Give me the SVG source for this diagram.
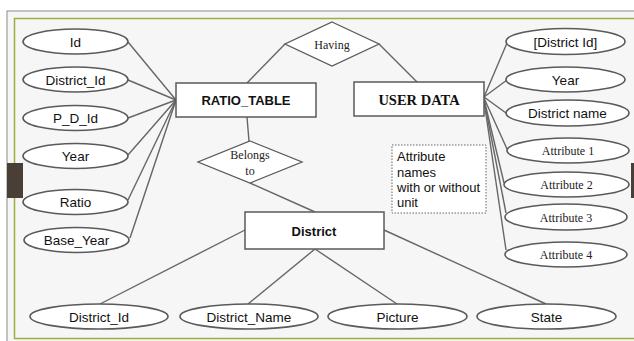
<svg xmlns="http://www.w3.org/2000/svg" width="634" height="341" viewBox="0 0 634 341">
  <style>
    .ent { fill: #ffffff; stroke: #5a5a5a; stroke-width: 1.5; }
    .att { fill: #ffffff; stroke: #5a5a5a; stroke-width: 1.6; }
    .rel { fill: #ffffff; stroke: #5a5a5a; stroke-width: 1.3; }
    .sans { font-family: "Liberation Sans", Arial, sans-serif; font-size: 13.5px; fill: #111; text-anchor: middle; dominant-baseline: central; }
    .serif { font-family: "Liberation Serif", "Times New Roman", serif; font-size: 12px; fill: #222; text-anchor: middle; dominant-baseline: central; }
    .bold { font-family: "Liberation Sans", Arial, sans-serif; font-size: 13px; font-weight: bold; fill: #111; text-anchor: middle; dominant-baseline: central; }
    .bserif { font-family: "Liberation Serif", "Times New Roman", serif; font-size: 14.5px; font-weight: bold; fill: #111; text-anchor: middle; dominant-baseline: central; }
    .note { font-family: "Liberation Sans", Arial, sans-serif; font-size: 13px; fill: #111; }
    #connectors line { stroke: #666; stroke-width: 1.4; }
  </style>

  <!-- slide frame -->
  <rect x="0" y="0" width="634" height="341" fill="#ffffff"/>
  <rect x="7" y="11" width="640" height="340" fill="#f6f6f6" stroke="#8a8a8a" stroke-width="1"/>
  <rect x="14.5" y="18.5" width="640" height="320" fill="none" stroke="#98b040" stroke-width="1.5"/>
  <rect x="7" y="163" width="16" height="35" fill="#4a3f37"/>
  <rect x="631" y="163" width="4" height="35" fill="#4a3f37"/>

  <g id="connectors">
    <!-- RATIO_TABLE attributes -->
    <line x1="128" y1="42" x2="176" y2="100"/>
    <line x1="128" y1="80" x2="176" y2="100"/>
    <line x1="128" y1="118" x2="176" y2="100"/>
    <line x1="128" y1="155" x2="176" y2="100"/>
    <line x1="128" y1="200" x2="176" y2="100"/>
    <line x1="130" y1="238" x2="176" y2="100"/>
    <!-- Having -->
    <line x1="285" y1="44" x2="247" y2="83"/>
    <line x1="379" y1="44" x2="418" y2="83"/>
    <!-- Belongs to -->
    <line x1="247" y1="117" x2="249" y2="141"/>
    <line x1="250" y1="183" x2="315" y2="212"/>
    <!-- USER DATA attributes -->
    <line x1="484" y1="97" x2="507" y2="43"/>
    <line x1="484" y1="97" x2="507" y2="80"/>
    <line x1="484" y1="97" x2="506" y2="113"/>
    <line x1="484" y1="98" x2="507" y2="149"/>
    <line x1="484" y1="99" x2="504" y2="183"/>
    <line x1="484" y1="100" x2="506" y2="213"/>
    <line x1="484" y1="101" x2="506" y2="250"/>
    <!-- District attributes -->
    <line x1="245" y1="230" x2="100" y2="304"/>
    <line x1="315" y1="249" x2="248" y2="304"/>
    <line x1="315" y1="249" x2="397" y2="304"/>
    <line x1="384" y1="230" x2="546" y2="304"/>
  </g>

  <!-- RATIO_TABLE and its attributes -->
  <g id="ratio_table">
    <rect class="ent" x="176" y="83" width="140" height="34"/>
    <text class="bold" x="246" y="100">RATIO_TABLE</text>
  </g>
  <g id="rt_id"><ellipse class="att" cx="75.5" cy="41.5" rx="52.5" ry="12.5"/><text class="sans" x="75.5" y="42">Id</text></g>
  <g id="rt_district_id"><ellipse class="att" cx="75.5" cy="79.5" rx="52.5" ry="12.5"/><text class="sans" x="75.5" y="80">District_Id</text></g>
  <g id="rt_p_d_id"><ellipse class="att" cx="75.5" cy="118" rx="52.5" ry="12.5"/><text class="sans" x="75.5" y="118.5">P_D_Id</text></g>
  <g id="rt_year"><ellipse class="att" cx="75.5" cy="156" rx="52.5" ry="12.5"/><text class="sans" x="75.5" y="156.5">Year</text></g>
  <g id="rt_ratio"><ellipse class="att" cx="75.5" cy="202" rx="52.5" ry="12.5"/><text class="sans" x="75.5" y="202.5">Ratio</text></g>
  <g id="rt_base_year"><ellipse class="att" cx="76.5" cy="240" rx="52.5" ry="12.5"/><text class="sans" x="76.5" y="240.5">Base_Year</text></g>

  <!-- relationships -->
  <g id="having">
    <polygon class="rel" points="332,22 379,44 332,66 285,44"/>
    <text class="serif" x="332" y="44.5">Having</text>
  </g>
  <g id="belongs_to">
    <polygon class="rel" points="250,141 302,162 250,183 198,162"/>
    <text class="serif" x="250" y="155">Belongs</text>
    <text class="serif" x="250" y="171">to</text>
  </g>

  <!-- USER DATA and its attributes -->
  <g id="user_data">
    <rect class="ent" x="354" y="82" width="130" height="34"/>
    <text class="bserif" x="419" y="99.5">USER DATA</text>
  </g>
  <g id="ud_district_id"><ellipse class="att" cx="565.5" cy="41.5" rx="59.5" ry="13"/><text class="sans" x="565.5" y="42">[District Id]</text></g>
  <g id="ud_year"><ellipse class="att" cx="565.5" cy="79.5" rx="59.5" ry="12.5"/><text class="sans" x="565.5" y="80">Year</text></g>
  <g id="ud_district_name"><ellipse class="att" cx="567.5" cy="113" rx="61.5" ry="13"/><text class="sans" x="567.5" y="113.5">District name</text></g>
  <g id="ud_attr1"><ellipse class="att" cx="568" cy="150.5" rx="61" ry="12.5"/><text class="serif" x="568" y="151">Attribute 1</text></g>
  <g id="ud_attr2"><ellipse class="att" cx="566.5" cy="184.5" rx="62.5" ry="12.5"/><text class="serif" x="566.5" y="185">Attribute 2</text></g>
  <g id="ud_attr3"><ellipse class="att" cx="566" cy="217" rx="61" ry="13"/><text class="serif" x="566" y="217.5">Attribute 3</text></g>
  <g id="ud_attr4"><ellipse class="att" cx="566" cy="254.5" rx="61" ry="12.5"/><text class="serif" x="566" y="255">Attribute 4</text></g>

  <!-- annotation -->
  <g id="note">
    <rect x="392" y="145" width="94" height="68" fill="#ffffff" stroke="#666" stroke-width="1" stroke-dasharray="1.5,1.5"/>
    <text class="note" x="397" y="161">Attribute</text>
    <text class="note" x="397" y="176.5">names</text>
    <text class="note" x="397" y="192">with or without</text>
    <text class="note" x="397" y="207">unit</text>
  </g>

  <!-- District and its attributes -->
  <g id="district">
    <rect class="ent" x="245" y="212" width="139" height="37"/>
    <text class="bold" x="314" y="231">District</text>
  </g>
  <g id="d_district_id"><ellipse class="att" cx="99" cy="316.5" rx="69" ry="12.5"/><text class="sans" x="99" y="317">District_Id</text></g>
  <g id="d_district_name"><ellipse class="att" cx="249" cy="316.5" rx="69" ry="12.5"/><text class="sans" x="249" y="317">District_Name</text></g>
  <g id="d_picture"><ellipse class="att" cx="397.5" cy="316.5" rx="69.5" ry="12.5"/><text class="sans" x="397.5" y="317">Picture</text></g>
  <g id="d_state"><ellipse class="att" cx="546.5" cy="316.5" rx="69.5" ry="12.5"/><text class="sans" x="546.5" y="317">State</text></g>
</svg>
